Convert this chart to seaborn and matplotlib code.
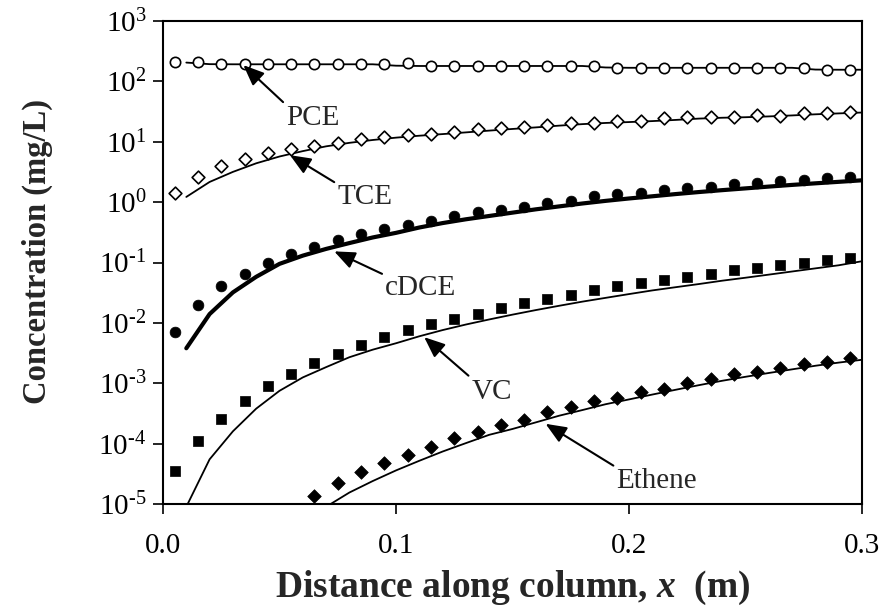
import matplotlib
matplotlib.use("Agg")
import matplotlib.pyplot as plt
import seaborn as sns
import numpy as np
import pandas as pd
from matplotlib.ticker import FixedLocator, FormatStrFormatter, FuncFormatter, NullLocator

# ---------------- data ----------------
x_obs = [0.005, 0.015, 0.025, 0.035, 0.045, 0.055, 0.065, 0.075, 0.085, 0.095,
         0.105, 0.115, 0.125, 0.135, 0.145, 0.155, 0.165, 0.175, 0.185, 0.195,
         0.205, 0.215, 0.225, 0.235, 0.245, 0.255, 0.265, 0.275, 0.285, 0.295]

pce_obs = [209, 209, 194, 196, 196, 196, 196, 196, 196, 196,
           199, 180, 180, 180, 180, 180, 180, 180, 183, 167,
           167, 167, 167, 167, 167, 167, 167, 167, 155, 155]

tce_obs = [1.42, 2.62, 3.98, 5.2, 6.4, 7.5, 8.5, 9.7, 11.2, 12.1,
           13.0, 13.7, 14.6, 16.0, 17.0, 17.7, 19.1, 20.6, 20.1, 22.0,
           22.2, 24.3, 25.9, 25.9, 25.3, 27.6, 26.9, 29.5, 29.5, 31.0]

cdce_obs = [0.00703, 0.0200, 0.0403, 0.0644, 0.0995, 0.138, 0.181, 0.240, 0.302, 0.365,
            0.425, 0.488, 0.583, 0.687, 0.734, 0.839, 0.971, 1.05, 1.28, 1.35,
            1.43, 1.61, 1.73, 1.81, 1.98, 2.06, 2.20, 2.35, 2.49, 2.62]

vc_obs = [3.48e-5, 1.12e-4, 2.58e-4, 5.18e-4, 8.95e-4, 1.44e-3, 2.13e-3, 3.08e-3, 4.35e-3, 5.81e-3,
          7.51e-3, 9.44e-3, 0.01174, 0.01420, 0.01773, 0.02105, 0.0252, 0.0286, 0.0355, 0.0403,
          0.0457, 0.0507, 0.0575, 0.0637, 0.0743, 0.0823, 0.0899, 0.0982, 0.1088, 0.1205]

x_eth_obs = [0.065, 0.075, 0.085, 0.095, 0.105, 0.115, 0.125, 0.135, 0.145, 0.155,
             0.165, 0.175, 0.185, 0.195, 0.205, 0.215, 0.225, 0.235, 0.245, 0.255,
             0.265, 0.275, 0.285, 0.295]
eth_obs = [1.38e-5, 2.20e-5, 3.36e-5, 4.81e-5, 6.60e-5, 8.85e-5, 1.23e-4, 1.55e-4, 2.07e-4, 2.48e-4,
           3.32e-4, 4.02e-4, 5.05e-4, 5.74e-4, 7.11e-4, 8.10e-4, 1.00e-3, 1.19e-3, 1.40e-3, 1.55e-3,
           1.78e-3, 2.05e-3, 2.27e-3, 2.61e-3]

x_mod = [0.01, 0.02, 0.03, 0.04, 0.05, 0.06, 0.07, 0.08, 0.09, 0.10,
         0.11, 0.12, 0.13, 0.14, 0.15, 0.16, 0.17, 0.18, 0.19, 0.20,
         0.21, 0.22, 0.23, 0.24, 0.25, 0.26, 0.27, 0.28, 0.29, 0.30]

pce_mod = [205, 193, 192, 192, 192, 192, 192, 192, 192, 182,
           180, 180, 180, 180, 180, 180, 180, 180, 170, 168,
           168, 168, 168, 168, 168, 168, 168, 157, 156, 156]

tce_mod = [1.22, 2.16, 3.17, 4.4, 5.7, 7.0, 8.4, 9.6, 10.7, 11.7,
           12.6, 13.4, 14.3, 15.3, 16.3, 17.3, 18.5, 19.6, 20.5, 21.2,
           22.0, 23.0, 24.2, 25.0, 25.5, 26.3, 27.3, 28.5, 29.5, 30.5]

cdce_mod = [0.0038, 0.014, 0.032, 0.058, 0.095, 0.13, 0.168, 0.21, 0.26, 0.31,
            0.38, 0.45, 0.52, 0.59, 0.67, 0.76, 0.85, 0.95, 1.05, 1.15,
            1.25, 1.36, 1.47, 1.58, 1.69, 1.81, 1.93, 2.05, 2.17, 2.30]

vc_mod = [9.0e-6, 5.5e-5, 1.6e-4, 3.8e-4, 7.5e-4, 1.25e-3, 1.85e-3, 2.7e-3, 3.6e-3, 4.6e-3,
          6.0e-3, 7.6e-3, 9.4e-3, 0.0114, 0.0137, 0.0163, 0.0192, 0.0225, 0.026, 0.030,
          0.0345, 0.039, 0.044, 0.050, 0.056, 0.063, 0.071, 0.080, 0.090, 0.105]

x_eth_mod = [0.07, 0.08, 0.09, 0.10, 0.11, 0.12, 0.13, 0.14, 0.15, 0.16,
             0.17, 0.18, 0.19, 0.20, 0.21, 0.22, 0.23, 0.24, 0.25, 0.26,
             0.27, 0.28, 0.29, 0.30]
eth_mod = [9.0e-6, 1.55e-5, 2.4e-5, 3.6e-5, 5.2e-5, 7.4e-5, 1.02e-4, 1.4e-4, 1.75e-4, 2.25e-4,
           2.9e-4, 3.6e-4, 4.5e-4, 5.4e-4, 6.5e-4, 7.8e-4, 9.3e-4, 1.1e-3, 1.28e-3, 1.48e-3,
           1.7e-3, 1.95e-3, 2.2e-3, 2.45e-3]

labels = ["PCE", "TCE", "cDCE", "VC", "Ethene"]
label_xy = [(0.0644, 24.6), (0.0867, 1.21), (0.1107, 0.0373), (0.1412, 7.3e-4), (0.212, 2.44e-5)]
arrow_tip = [(0.0345, 186), (0.0545, 6.0), (0.0735, 0.153), (0.1121, 5.8e-3), (0.1642, 2.13e-4)]

x_ticks = [0.0, 0.1, 0.2, 0.3]
y_ticks = [1e-5, 1e-4, 1e-3, 1e-2, 1e-1, 1e0, 1e1, 1e2, 1e3]
y_tick_exps = ["-5", "-4", "-3", "-2", "-1", "0", "1", "2", "3"]

# ---------------- style ----------------
sns.set_style("ticks")
plt.rcParams["font.family"] = ["Liberation Serif", "DejaVu Serif"]
plt.rcParams["mathtext.fontset"] = "custom"
plt.rcParams["mathtext.rm"] = "Liberation Serif"
plt.rcParams["mathtext.it"] = "Liberation Serif:italic"
plt.rcParams["mathtext.bf"] = "Liberation Serif:bold"
plt.rcParams["mathtext.bfit"] = "Liberation Serif:italic:bold"
plt.rcParams["axes.unicode_minus"] = False

fig = plt.figure(figsize=(8.83, 6.11), dpi=100)
ax = fig.add_axes([0.1846, 0.1751, 0.9762 - 0.1846, 0.9656 - 0.1751])

# model lines
sns.lineplot(x=x_mod, y=pce_mod, ax=ax, color="black", lw=1.3, estimator=None, sort=False)
sns.lineplot(x=x_mod, y=tce_mod, ax=ax, color="black", lw=1.3, estimator=None, sort=False)
sns.lineplot(x=x_mod, y=cdce_mod, ax=ax, color="black", lw=3.0, estimator=None, sort=False)
sns.lineplot(x=x_mod, y=vc_mod, ax=ax, color="black", lw=1.3, estimator=None, sort=False)
sns.lineplot(x=x_eth_mod, y=eth_mod, ax=ax, color="black", lw=1.3, estimator=None, sort=False)

# observations
sns.scatterplot(x=x_obs, y=pce_obs, ax=ax, marker="o", s=55, facecolor="white",
                edgecolor="black", linewidth=1.2, zorder=3)
sns.scatterplot(x=x_obs, y=tce_obs, ax=ax, marker="D", s=42, facecolor="white",
                edgecolor="black", linewidth=1.2, zorder=3)
sns.scatterplot(x=x_obs, y=cdce_obs, ax=ax, marker="o", s=60, color="black",
                edgecolor="black", linewidth=0.5, zorder=3)
sns.scatterplot(x=x_obs, y=vc_obs, ax=ax, marker="s", s=55, color="black",
                edgecolor="black", linewidth=0.5, zorder=3)
sns.scatterplot(x=x_eth_obs, y=eth_obs, ax=ax, marker="D", s=48, color="black",
                edgecolor="black", linewidth=0.5, zorder=3)

ax.set_yscale("log")
ax.set_xlim(0.0, 0.3)
ax.set_ylim(1e-5, 1e3)

exp_map = dict(zip(y_ticks, y_tick_exps))


def fmt_y(v, pos):
    for k, e in exp_map.items():
        if abs(np.log10(v) - np.log10(k)) < 1e-6:
            return "$\\mathdefault{10^{\\text{" + e + "}}}$"
    return ""


ax.xaxis.set_major_locator(FixedLocator(x_ticks))
ax.xaxis.set_major_formatter(FormatStrFormatter("%.1f"))
ax.yaxis.set_major_locator(FixedLocator(y_ticks))
ax.yaxis.set_major_formatter(FuncFormatter(fmt_y))
ax.yaxis.set_minor_locator(NullLocator())
ax.xaxis.set_minor_locator(NullLocator())

ax.tick_params(axis="both", direction="out", length=7, width=1.2, labelsize=21,
               colors="black", top=False, right=False)
ax.tick_params(axis="x", pad=14)
ax.tick_params(axis="y", pad=5)

for sp in ax.spines.values():
    sp.set_visible(True)
    sp.set_linewidth(1.5)
    sp.set_color("black")

ax.set_xlabel(r"Distance along column, $\mathbfit{x}$  (m)", fontsize=27,
              fontweight="bold", labelpad=7)
ax.set_ylabel("Concentration (mg/L)", fontsize=23.5, fontweight="bold")
ax.yaxis.set_label_coords(-0.158, 0.522)

for lab, (tx, ty), (hx, hy) in zip(labels, label_xy, arrow_tip):
    ax.annotate(lab, xy=(hx, hy), xytext=(tx, ty), textcoords="data",
                ha="center", va="center", fontsize=21,
                arrowprops=dict(arrowstyle="-|>,head_length=0.6,head_width=0.25",
                                color="black", lw=1.5, shrinkA=0, shrinkB=0,
                                relpos=(0.0, 1.0)))

fig.savefig("out.png", dpi=100, facecolor="white")
